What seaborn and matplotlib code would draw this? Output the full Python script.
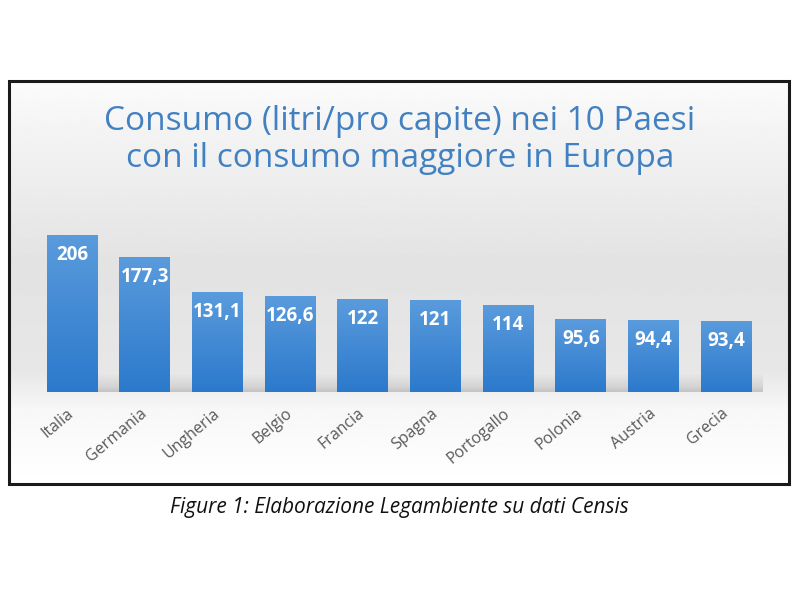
import numpy as np
import pandas as pd
import matplotlib
matplotlib.use("Agg")
import matplotlib.pyplot as plt
from matplotlib.colors import LinearSegmentedColormap
from matplotlib.patches import Rectangle
import seaborn as sns

# Consumo acqua in bottiglia, litri pro capite (dati Censis)
paesi = ["Italia", "Germania", "Ungheria", "Belgio", "Francia",
         "Spagna", "Portogallo", "Polonia", "Austria", "Grecia"]
consumo = [206, 177.3, 131.1, 126.6, 122, 121, 114, 95.6, 94.4, 93.4]

titolo = "Consumo (litri/pro capite) nei 10 Paesi\ncon il consumo maggiore in Europa"
didascalia = "Figure 1: Elaborazione Legambiente su dati Censis"

df = pd.DataFrame({"paese": paesi, "consumo": consumo})
etichette = [f"{v:g}".replace(".", ",") for v in consumo]

sns.set_theme(style="white")
plt.rcParams["font.family"] = ["Open Sans", "DejaVu Sans"]

fig = plt.figure(figsize=(8, 6), dpi=100)
fig.patch.set_facecolor("white")

# sfondo in coordinate pixel
bg = fig.add_axes([0, 0, 1, 1])
bg.set_xlim(0, 800)
bg.set_ylim(600, 0)
bg.axis("off")

box_l, box_t, box_r, box_b = 9, 81, 789, 484
pos = np.linspace(0, 1, 200)
livelli = np.interp(pos, [0, 0.1, 0.45, 0.72, 0.82, 1], [0.985, 0.96, 0.89, 0.905, 0.97, 1.0])
grad = np.tile(livelli[:, None], (1, 2))
bg.imshow(grad, cmap="gray", vmin=0, vmax=1, extent=[box_l, box_r, box_b, box_t],
          aspect="auto", interpolation="bilinear", zorder=0)
bg.add_patch(Rectangle((box_l, box_t), box_r - box_l, box_b - box_t,
                       fill=False, edgecolor="#1a1a1a", linewidth=2.2, zorder=3))
bg.text(400, 140, titolo, ha="center", va="center", fontsize=24, color="#4281c1",
        linespacing=1.17)
bg.text(399, 507, didascalia, ha="center", va="center", fontsize=15,
        style="italic", color="#111111")

# grafico a barre
ax = fig.add_axes([35.6 / 800, 208 / 600, 727 / 800, 157 / 600])
ax.patch.set_alpha(0)
sns.barplot(data=df, x="paese", y="consumo", color="#3a86d4", width=0.7,
            saturation=1, linewidth=0, ax=ax, zorder=2)

blu = LinearSegmentedColormap.from_list("blu", ["#2c79cc", "#5a9bdc"])
vert = np.linspace(0, 1, 100)[:, None]
for p in ax.patches:
    x0, w, h = p.get_x(), p.get_width(), p.get_height()
    im = ax.imshow(vert, cmap=blu, origin="lower", extent=[x0, x0 + w, 0, h],
                   aspect="auto", zorder=2.5)
    im.set_clip_path(p)

# ombra alla base delle barre
ombra = np.interp(np.linspace(0, 1, 50), [0, 0.3, 1], [0.35, 0.2, 0])[:, None]
ombra_rgba = np.zeros((50, 2, 4))
ombra_rgba[..., :3] = 0.45
ombra_rgba[..., 3] = np.tile(ombra, (1, 2))
ax.imshow(ombra_rgba, origin="lower", extent=[-0.3, 9.55, 0, 24], aspect="auto", zorder=1)

for p, testo in zip(ax.patches, etichette):
    ax.annotate(testo, (p.get_x() + p.get_width() / 2, p.get_height()),
                xytext=(0, -14.5), textcoords="offset points", ha="center", va="center",
                color="white", fontsize=13.5, fontweight="bold", zorder=4)

ax.set_xlim(-0.5, len(paesi) - 0.5)
ax.set_ylim(0, 206)
ax.set_xlabel("")
ax.set_ylabel("")
ax.set_yticks([])
sns.despine(ax=ax, left=True, bottom=True)
ax.tick_params(axis="x", length=0, pad=14)
for lab in ax.get_xticklabels():
    lab.set_rotation(40)
    lab.set_ha("right")
    lab.set_va("center")
    lab.set_rotation_mode("anchor")
    lab.set_color("#595959")
    lab.set_fontsize(11.5)

fig.savefig("out.png", dpi=100)
